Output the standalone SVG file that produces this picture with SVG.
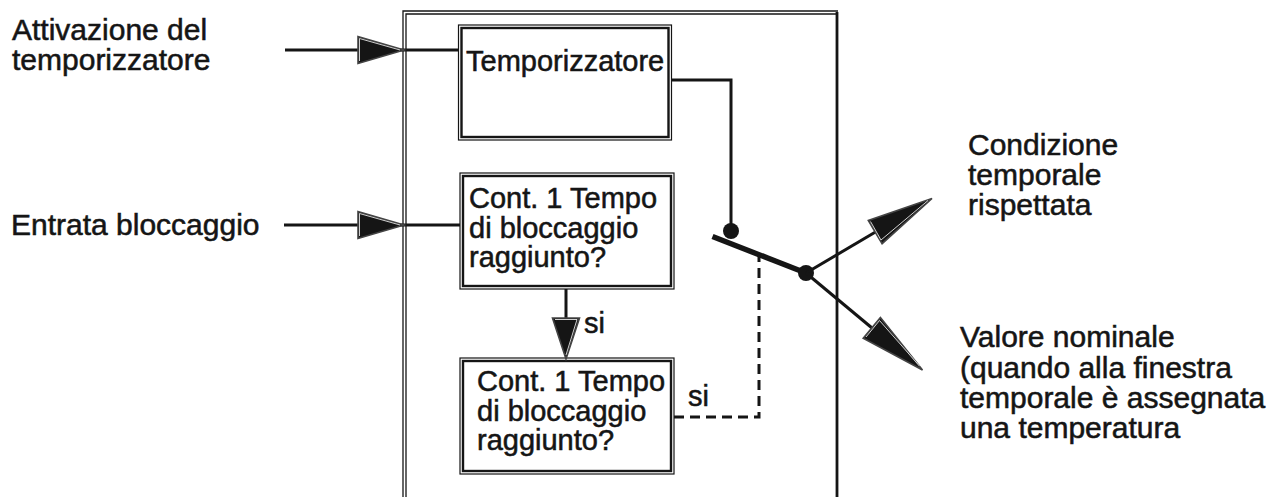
<svg xmlns="http://www.w3.org/2000/svg" width="1273" height="497" viewBox="0 0 1273 497">
<style>
  .lbl { font-family: "Liberation Sans", Arial, Helvetica, sans-serif; font-size: 30px; fill: #151515; stroke: #151515; stroke-width: 0.55; }
  .box-t { font-family: "Liberation Sans", Arial, Helvetica, sans-serif; font-size: 29px; fill: #151515; stroke: #151515; stroke-width: 0.55; }
  .ln { fill: none; stroke: #151515; stroke-width: 3; }
  .dash { fill: none; stroke: #151515; stroke-width: 3; stroke-dasharray: 10 6; }
  .frame { fill: none; stroke: #151515; stroke-width: 1.3; }
  .bo { fill: #ffffff; stroke: #151515; stroke-width: 1.2; }
  .bi { fill: none; stroke: #151515; stroke-width: 2.4; }
  .ah { fill: #151515; stroke: #444; stroke-width: 1.6; stroke-linejoin: miter; }
  .ahl { fill: none; stroke: #ffffff; stroke-width: 0.8; }
  .dot { fill: #151515; }
</style>
<rect width="1273" height="497" fill="#ffffff"/>

<g id="frame">
  <path class="frame" d="M403,500 V11 H838"/>
  <path class="frame" d="M406,500 V14 H836"/>
  <line x1="837" y1="12" x2="837" y2="500" stroke="#151515" stroke-width="2.8"/>
</g>

<g id="label-attivazione">
  <text class="lbl" x="12" y="39.5">Attivazione del<tspan x="12" dy="30">temporizzatore</tspan></text>
</g>
<g id="label-entrata">
  <text class="lbl" x="11" y="235">Entrata bloccaggio</text>
</g>
<g id="label-condizione">
  <text class="lbl" x="968" y="155">Condizione<tspan x="968" dy="30">temporale</tspan><tspan x="968" dy="30">rispettata</tspan></text>
</g>
<g id="label-valore">
  <text class="lbl" x="960" y="347">Valore nominale<tspan x="960" dy="31">(quando alla finestra</tspan><tspan x="960" dy="30">temporale è assegnata</tspan><tspan x="960" dy="30">una temperatura</tspan></text>
</g>

<g id="node-temporizzatore">
  <rect class="bo" x="458.5" y="25" width="213" height="115"/>
  <rect class="bi" x="461.5" y="28" width="207" height="109"/>
  <text class="box-t" x="466" y="71">Temporizzatore</text>
</g>
<g id="node-cont1">
  <rect class="bo" x="460" y="173" width="214" height="116"/>
  <rect class="bi" x="463" y="176" width="208" height="110"/>
  <text class="box-t" x="469" y="208">Cont. 1 Tempo<tspan x="469" dy="30">di bloccaggio</tspan><tspan x="469" dy="29">raggiunto?</tspan></text>
</g>
<g id="node-cont2">
  <rect class="bo" x="460" y="358" width="214" height="116"/>
  <rect class="bi" x="463" y="361" width="208" height="110"/>
  <text class="box-t" x="477" y="391">Cont. 1 Tempo<tspan x="477" dy="30">di bloccaggio</tspan><tspan x="477" dy="29">raggiunto?</tspan></text>
</g>

<g id="connectors">
  <!-- input: Attivazione -->
  <line class="ln" x1="285" y1="50" x2="458" y2="50"/>
  <polygon class="ah" points="404,50 358,36.5 358,63.5"/>
  <polyline class="ahl" points="359.5,61 359.5,38.5 400,50"/>
  <!-- input: Entrata -->
  <line class="ln" x1="284" y1="225" x2="460" y2="225"/>
  <polygon class="ah" points="404,225 358,211.5 358,238.5"/>
  <polyline class="ahl" points="359.5,236 359.5,213.5 400,225"/>
  <!-- box2 to box3 -->
  <line class="ln" x1="566" y1="289" x2="566" y2="340"/>
  <polygon class="ah" points="566,359 552.5,318 579.5,318"/>
  <polyline class="ahl" points="555,319.5 577,319.5 566,355"/>
  <text class="box-t" x="584" y="333">si</text>
  <!-- timer to switch -->
  <polyline class="ln" points="672,80 731,80 731,232"/>
  <circle class="dot" cx="731" cy="231" r="8"/>
  <!-- switch -->
  <line x1="712.5" y1="236.5" x2="806" y2="273" stroke="#151515" stroke-width="5.5"/>
  <circle class="dot" cx="806" cy="273" r="8"/>
  <!-- dashed si -->
  <polyline class="dash" points="674,417 759,417 759,253"/>
  <text class="box-t" x="688" y="406">si</text>
  <!-- outputs -->
  <line class="ln" x1="806" y1="273" x2="878" y2="230.5"/>
  <polygon class="ah" points="932,198.5 868.3,220.5 882.1,243.7"/>
  <polyline class="ahl" points="870.5,221.5 881,240 928,200.5"/>
  <line class="ln" x1="806" y1="273" x2="875" y2="330.5"/>
  <polygon class="ah" points="922.5,370 863.2,338.2 880.4,317.4"/>
  <polyline class="ahl" points="866,337 879.5,320.5 919.5,366"/>
</g>
</svg>
